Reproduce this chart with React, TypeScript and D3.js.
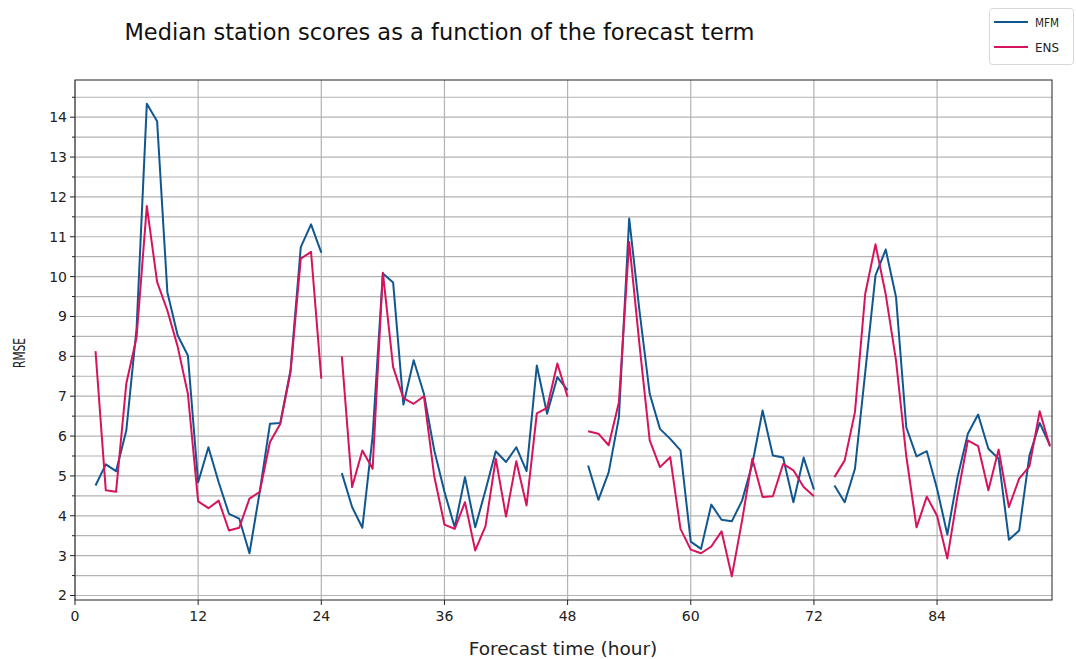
import React from 'react';
import * as d3 from 'd3';

// forecast hours, one segment per day (gaps between them)
const segments: number[][] = [
  d3.range(2, 25),
  d3.range(26, 49),
  d3.range(50, 73),
  d3.range(74, 96),
];

const mfm: number[] = [
  // 2..24
  4.76, 5.29, 5.12, 6.14, 8.7, 14.34, 13.9, 9.61, 8.53, 8.02, 4.84, 5.72, 4.84, 4.05, 3.93, 3.06, 4.6, 6.31, 6.33, 7.65, 10.74, 11.31, 10.6,
  // 26..48
  5.07, 4.22, 3.7, 6.0, 10.08, 9.85, 6.79, 7.9, 7.06, 5.65, 4.6, 3.71, 4.97, 3.71, 4.64, 5.62, 5.35, 5.72, 5.12, 7.77, 6.56, 7.48, 7.15,
  // 50..72
  5.26, 4.4, 5.09, 6.47, 11.46, 9.15, 7.06, 6.18, 5.93, 5.64, 3.35, 3.17, 4.28, 3.9, 3.86, 4.38, 5.3, 6.64, 5.51, 5.46, 4.34, 5.46, 4.66,
  // 74..95
  4.76, 4.34, 5.18, 7.6, 10.03, 10.68, 9.49, 6.22, 5.49, 5.62, 4.68, 3.53, 4.97, 6.06, 6.54, 5.68, 5.43, 3.4, 3.63, 5.51, 6.33, 5.77,
];

const ens: number[] = [
  // 2..24
  8.13, 4.64, 4.6, 7.32, 8.48, 11.77, 9.87, 9.15, 8.25, 7.06, 4.36, 4.19, 4.38, 3.63, 3.7, 4.43, 4.6, 5.85, 6.3, 7.6, 10.45, 10.62, 7.44,
  // 26..48
  8.0, 4.72, 5.64, 5.18, 10.1, 7.73, 6.95, 6.81, 7.0, 5.0, 3.78, 3.67, 4.34, 3.13, 3.74, 5.43, 3.98, 5.37, 4.26, 6.57, 6.71, 7.82, 6.98,
  // 50..72
  6.12, 6.06, 5.77, 6.85, 10.87, 8.3, 5.89, 5.22, 5.47, 3.67, 3.15, 3.06, 3.23, 3.61, 2.48, 3.88, 5.43, 4.47, 4.49, 5.3, 5.14, 4.72, 4.49,
  // 74..95
  4.97, 5.39, 6.6, 9.57, 10.81, 9.55, 7.9, 5.5, 3.71, 4.48, 4.0, 2.93, 4.51, 5.89, 5.75, 4.64, 5.66, 4.22, 4.93, 5.24, 6.62, 5.74,
];

const xTicks = [0, 12, 24, 36, 48, 60, 72, 84];
const yTicks = d3.range(2, 15);
const yMinorTicks = d3.range(2.5, 15, 1);

const series = [
  { name: 'MFM', color: '#11578f', values: mfm },
  { name: 'ENS', color: '#d6135c', values: ens },
];

const W = 1076;
const H = 659;
const left = 75;
const right = 1052;
const top = 80;
const bottom = 600;
const font = 'DejaVu Sans, sans-serif';

export default function App() {
  const x = d3.scaleLinear().domain([0, 95.2]).range([left, right]);
  const y = d3.scaleLinear().domain([1.887, 14.933]).range([bottom, top]);

  const line = d3
    .line<[number, number]>()
    .x((d) => x(d[0]))
    .y((d) => y(d[1]));

  // split a flat series into the day segments
  const segPaths = (values: number[]) => {
    let i = 0;
    return segments.map((seg) => seg.map((h) => [h, values[i++]] as [number, number]));
  };

  return (
    <svg
      width={W}
      height={H}
      style={{ position: 'absolute', left: 0, top: 0, background: '#fff' }}
      fontFamily={font}
    >
      <rect width={W} height={H} fill="#fff" />
      {/* grid */}
      {[...yTicks, ...yMinorTicks].map((t) => (
        <line key={'gy' + t} x1={left} x2={right} y1={y(t)} y2={y(t)} stroke="#b3b3b3" strokeWidth={1.2} />
      ))}
      {xTicks.map((t) => (
        <line key={'gx' + t} x1={x(t)} x2={x(t)} y1={top} y2={bottom} stroke="#b3b3b3" strokeWidth={1.2} />
      ))}

      {/* data */}
      {series.map((s) => (
        <g key={s.name}>
          {segPaths(s.values).map((pts, i) => (
            <path key={i} d={line(pts) || ''} fill="none" stroke={s.color} strokeWidth={2} strokeLinejoin="round" />
          ))}
        </g>
      ))}

      {/* frame */}
      <rect x={left} y={top} width={right - left} height={bottom - top} fill="none" stroke="#222" strokeWidth={1} />

      {/* y ticks */}
      {yTicks.map((t) => (
        <g key={'yt' + t}>
          <line x1={left - 5} x2={left} y1={y(t)} y2={y(t)} stroke="#222" />
          <text x={left - 8} y={y(t)} dy="0.35em" textAnchor="end" fontSize={14} fill="#222">
            {t}
          </text>
        </g>
      ))}
      {yMinorTicks.map((t) => (
        <line key={'ym' + t} x1={left - 3} x2={left} y1={y(t)} y2={y(t)} stroke="#222" />
      ))}

      {/* x ticks */}
      {xTicks.map((t) => (
        <g key={'xt' + t}>
          <line x1={x(t)} x2={x(t)} y1={bottom} y2={bottom + 5} stroke="#222" />
          <text x={x(t)} y={bottom + 21} textAnchor="middle" fontSize={14} fill="#222">
            {t}
          </text>
        </g>
      ))}

      {/* labels */}
      <text x={563} y={655} textAnchor="middle" fontSize={18.5} fill="#222">
        Forecast time (hour)
      </text>
      <text
        transform={`translate(25, 353) rotate(-90)`}
        textAnchor="middle"
        fontSize={15}
        fill="#222"
        textLength={30}
        lengthAdjust="spacingAndGlyphs"
      >
        RMSE
      </text>
      <text x={439.5} y={40} textAnchor="middle" fontSize={22.5} fill="#111">
        Median station scores as a function of the forecast term
      </text>

      {/* legend */}
      <rect x={989.5} y={8.5} width={84} height={56} rx={3} fill="#fff" stroke="#d8d8d8" />
      {series.map((s, i) => (
        <g key={'lg' + s.name} transform={`translate(994, ${22 + i * 25})`}>
          <line x1={0} x2={34} y1={0} y2={0} stroke={s.color} strokeWidth={2} />
          <text x={41} y={0} dy="0.35em" fontSize={13} fill="#222" textLength={24} lengthAdjust="spacingAndGlyphs">
            {s.name}
          </text>
        </g>
      ))}
    </svg>
  );
}
